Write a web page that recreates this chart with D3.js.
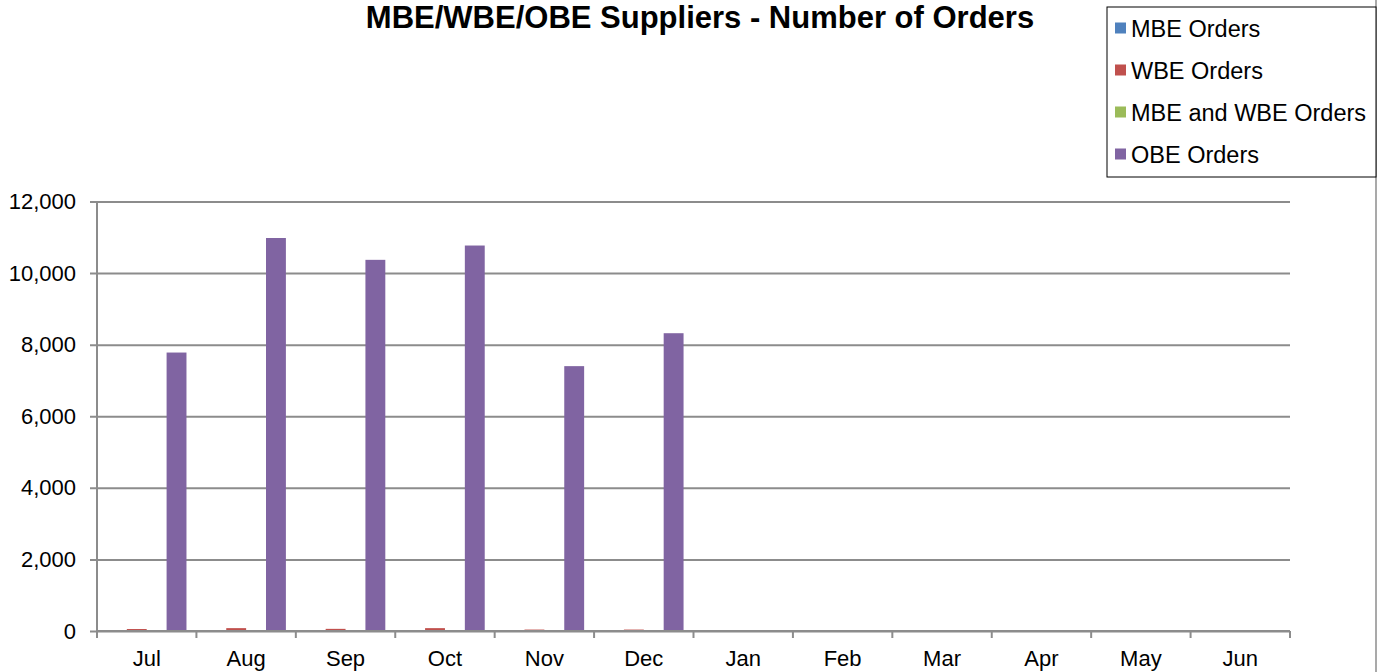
<!DOCTYPE html>
<html>
<head>
<meta charset="utf-8">
<script src="https://cdn.jsdelivr.net/npm/d3@7"></script>
<style>
  body { margin: 0; background: #fff; }
  svg { font-family: "Liberation Sans", Arial, sans-serif; }
  .axis text { font-size: 22px; fill: #000; }
  .axis path, .axis line { stroke: #8c8c8c; stroke-width: 2; }
</style>
</head>
<body>
<div id="plot"></div>
<script>
// data
var months = ["Jul", "Aug", "Sep", "Oct", "Nov", "Dec", "Jan", "Feb", "Mar", "Apr", "May", "Jun"];
var seriesNames = ["MBE Orders", "WBE Orders", "MBE and WBE Orders", "OBE Orders"];
var seriesColors = ["#4F81BD", "#C0504D", "#9BBB59", "#8064A2"];
var mbeOrders = [12, 5, 5, 15, 4, 4, 0, 0, 0, 0, 0, 0];
var wbeOrders = [55, 80, 60, 80, 40, 40, 0, 0, 0, 0, 0, 0];
var mbeWbeOrders = [2, 2, 2, 2, 2, 2, 0, 0, 0, 0, 0, 0];
var obeOrders = [7780, 10980, 10370, 10770, 7400, 8320, 0, 0, 0, 0, 0, 0];
var yTicks = [0, 2000, 4000, 6000, 8000, 10000, 12000];

var allSeries = [mbeOrders, wbeOrders, mbeWbeOrders, obeOrders];

// set the dimensions and margins of the graph
var W = 1389, H = 672;
var margin = {top: 201.5, right: 99, bottom: 41, left: 97},
    width = W - margin.left - margin.right,
    height = H - margin.top - margin.bottom;

var root = d3.select("#plot")
  .append("svg")
    .attr("width", W)
    .attr("height", H);

// outer frame edge on the right
root.append("line")
  .attr("x1", 1376).attr("x2", 1376)
  .attr("y1", 0).attr("y2", H)
  .attr("stroke", "#8c8c8c").attr("stroke-width", 1.5);

var svg = root.append("g")
  .attr("transform", "translate(" + margin.left + "," + margin.top + ")");

var x0 = d3.scaleBand().domain(months).range([0, width]).padding(0);
var x1 = d3.scaleBand().domain(seriesNames).range([0, x0.bandwidth()])
  .paddingInner(0).paddingOuter(0.5);
var y = d3.scaleLinear().domain([0, 12000]).range([height, 0]);

// Y axis with gridlines
svg.append("g").attr("class", "axis")
  .call(d3.axisLeft(y).tickValues(yTicks).tickSize(-width).tickSizeOuter(0)
    .tickFormat(d3.format(",")).tickPadding(21))
  .call(function(g) {
    g.select(".domain").remove();
    g.selectAll(".tick line").attr("x1", -7);
  });

svg.append("line")
  .attr("x1", 0).attr("x2", 0).attr("y1", 0).attr("y2", height)
  .attr("stroke", "#8c8c8c").attr("stroke-width", 2);

// bars
months.forEach(function(m, i) {
  seriesNames.forEach(function(s, j) {
    var v = allSeries[j][i];
    if (v <= 0) return;
    svg.append("rect")
      .attr("x", x0(m) + x1(s))
      .attr("width", x1.bandwidth())
      .attr("y", y(v))
      .attr("height", height - y(v))
      .attr("fill", seriesColors[j]);
  });
});

// X axis
var xAxis = svg.append("g").attr("class", "axis")
  .attr("transform", "translate(0," + height + ")")
  .call(d3.axisBottom(x0).tickSize(0).tickPadding(19));
xAxis.select(".domain").attr("d", "M0,0H" + width);
months.concat(["end"]).forEach(function(m, i) {
  xAxis.append("line")
    .attr("x1", i * x0.step()).attr("x2", i * x0.step())
    .attr("y1", 0).attr("y2", 7);
});

// title
root.append("text")
  .attr("x", 700).attr("y", 28)
  .attr("text-anchor", "middle")
  .style("font-size", "31px").style("font-weight", "bold")
  .text("MBE/WBE/OBE Suppliers - Number of Orders");

// legend
var lg = root.append("g");
lg.append("rect")
  .attr("x", 1107).attr("y", 7).attr("width", 269).attr("height", 170)
  .attr("fill", "#fff").attr("stroke", "#000").attr("stroke-width", 1);
seriesNames.forEach(function(s, j) {
  var cy = 28 + j * 42;
  lg.append("rect")
    .attr("x", 1115).attr("y", cy - 5.5).attr("width", 11).attr("height", 11)
    .attr("fill", seriesColors[j]);
  lg.append("text")
    .attr("x", 1131).attr("y", cy + 8.5)
    .style("font-size", "23.5px")
    .text(s);
});
</script>
</body>
</html>
